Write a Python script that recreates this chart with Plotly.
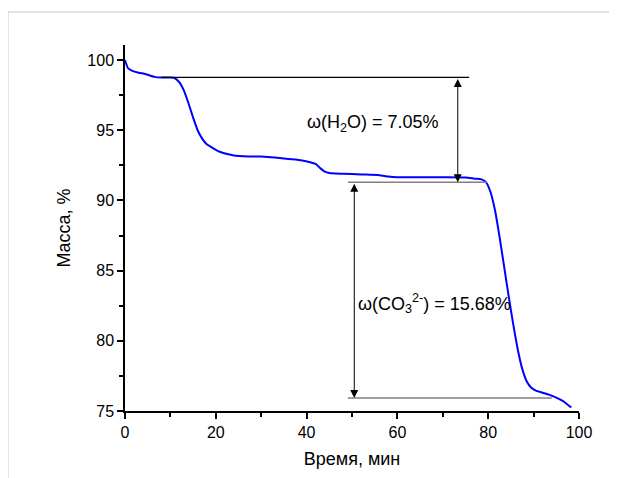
import plotly.graph_objects as go

time_min = [0, 0.3, 0.7, 1.5, 3, 4.5, 6.5, 8, 10, 11, 12, 13, 14, 15, 16, 17, 18, 19, 20, 21,
            22.5, 24, 26, 30, 33, 36, 39, 41, 42, 43, 44, 45, 48, 52, 56, 58, 60, 65, 70, 75,
            77, 78.5, 79.5, 80.5, 81.5, 82.5, 83.5, 84.5, 85.5, 86.5, 87.5, 88.5, 89.5, 90.5,
            92, 93.5, 95, 96.5, 97.5, 98.3]
mass_pct = [100, 99.7, 99.4, 99.25, 99.1, 99.0, 98.8, 98.75, 98.75, 98.7, 98.4, 97.8, 96.9, 95.9,
            95.0, 94.4, 94.0, 93.8, 93.6, 93.45, 93.3, 93.2, 93.15, 93.12, 93.05, 92.95, 92.85,
            92.7, 92.6, 92.3, 92.05, 91.95, 91.9, 91.85, 91.8, 91.7, 91.65, 91.65, 91.65, 91.63,
            91.55, 91.5, 91.3, 90.6, 89.3, 87.4, 85.3, 83.2, 81.2, 79.4, 78.0, 77.1, 76.65, 76.45,
            76.3, 76.15, 75.95, 75.7, 75.45, 75.25]

# reference levels (mass %) and x-extents of guide lines
level_top = 98.76
level_mid = 91.3
level_bot = 75.93
line_top_x = [8.1, 75.8]
line_mid_x = [49.1, 79.7]
line_bot_x = [49.1, 94.0]
arrow1_x = 73.3
arrow2_x = 50.5

label_h2o = "ω(H<sub>2</sub>O) = 7.05%"
label_co3 = "ω(CO<sub>3</sub><sup>2-</sup>) = 15.68%"

x_ticks = [0, 20, 40, 60, 80, 100]
y_ticks = [75, 80, 85, 90, 95, 100]

font_family = "Liberation Sans, Arial, sans-serif"

fig = go.Figure()
fig.add_trace(go.Scatter(x=time_min, y=mass_pct, mode="lines",
                         line=dict(color="#0000ff", width=2, shape="spline", smoothing=0.6),
                         showlegend=False, hoverinfo="skip"))

fig.add_shape(type="line", xref="x", yref="y", x0=line_top_x[0], x1=line_top_x[1],
              y0=level_top, y1=level_top, line=dict(color="#000000", width=1.2))
fig.add_shape(type="line", xref="x", yref="y", x0=line_mid_x[0], x1=line_mid_x[1],
              y0=level_mid, y1=level_mid, line=dict(color="#808080", width=1.5))
fig.add_shape(type="line", xref="x", yref="y", x0=line_bot_x[0], x1=line_bot_x[1],
              y0=level_bot, y1=level_bot, line=dict(color="#808080", width=1.5))

for ax_x, y_hi, y_lo in [(arrow1_x, level_top, level_mid), (arrow2_x, level_mid, level_bot)]:
    fig.add_annotation(x=ax_x, y=y_lo, ax=ax_x, ay=y_hi, xref="x", yref="y",
                       axref="x", ayref="y", text="", showarrow=True,
                       arrowhead=2, startarrowhead=2, arrowside="end+start",
                       arrowsize=1.6, startarrowsize=1.6, arrowwidth=1, arrowcolor="#000000")

fig.add_annotation(x=54.6, y=95.5, xref="x", yref="y", text=label_h2o, showarrow=False,
                   font=dict(family=font_family, size=18, color="#000000"))
fig.add_annotation(x=68.2, y=82.66, xref="x", yref="y", text=label_co3, showarrow=False,
                   font=dict(family=font_family, size=18, color="#000000"))

# outer frame (left, top, right)
fl, fr, ft = -0.2577, 1.0727, 1.0902
for x0, y0, x1, y1 in [(fl, ft, fl, -0.3), (fl, ft, fr, ft), (fr, ft, fr, -0.3)]:
    fig.add_shape(type="line", xref="paper", yref="paper", x0=x0, y0=y0, x1=x1, y1=y1,
                  line=dict(color="#c8c8c8", width=1))

axis_common = dict(showgrid=False, zeroline=False, showline=True, linecolor="#000000",
                   linewidth=1.5, ticks="outside", ticklen=6, tickwidth=1.5, tickcolor="#000000",
                   tickfont=dict(family=font_family, size=16, color="#000000"))

fig.update_xaxes(range=[0, 100], tickvals=x_ticks, ticktext=[str(v) for v in x_ticks],
                 minor=dict(dtick=10, tick0=0, ticks="outside", ticklen=4, tickwidth=1.5,
                            tickcolor="#000000"),
                 title=dict(text="Время, мин", font=dict(family=font_family, size=18,
                                                          color="#000000"), standoff=12),
                 **axis_common)
fig.update_yaxes(range=[75, 101.07], tickvals=y_ticks, ticktext=[str(v) for v in y_ticks],
                 minor=dict(dtick=2.5, tick0=75, ticks="outside", ticklen=4, tickwidth=1.5,
                            tickcolor="#000000"),
                 title=dict(text="Масса, %", font=dict(family=font_family, size=18,
                                                        color="#000000"), standoff=12),
                 **axis_common)

fig.update_layout(width=617, height=478, margin=dict(l=117, r=46, t=37, b=75),
                  paper_bgcolor="#ffffff", plot_bgcolor="#ffffff",
                  font=dict(family=font_family, color="#000000"))

fig.write_html("out.html")
